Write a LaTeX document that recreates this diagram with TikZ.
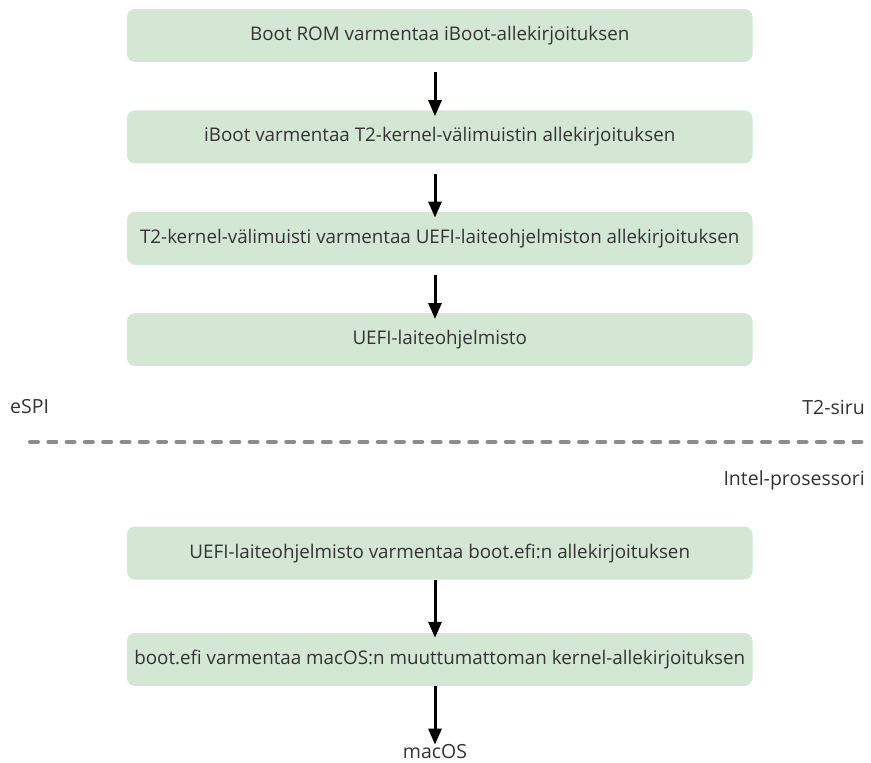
\documentclass[tikz,border=0pt]{standalone}
\usepackage{fontspec}
\setmainfont{Open Sans}
\usepackage{tikz}
\usetikzlibrary{positioning,arrows.meta}

\definecolor{boxgreen}{HTML}{D3E7D4}
\definecolor{txtgray}{HTML}{333333}
\definecolor{dashgray}{HTML}{8C8C8C}

\begin{document}
\begin{tikzpicture}[->,>={Triangle[width=13pt,length=16pt]},x=1pt,y=-1pt,
  stage/.style={fill=boxgreen,rounded corners=8pt,minimum width=625.5pt,minimum height=53pt,
    inner sep=0pt,text=txtgray,font=\fontsize{18.8}{22}\selectfont},
  side/.style={text=txtgray,inner sep=0pt,font=\fontsize{19.5}{23}\selectfont},
  flow/.style={line width=3pt}]

\useasboundingbox (0,0) rectangle (871,763);

\node[stage] (bootrom) at (439.75,35.5) {Boot ROM varmentaa iBoot-allekirjoituksen};
\node[stage,below = 48pt of bootrom] (iboot) {iBoot varmentaa T2-kernel-välimuistin allekirjoituksen};
\node[stage,below = 48pt of iboot] (kcache) {T2-kernel-välimuisti varmentaa UEFI-laiteohjelmiston allekirjoituksen};
\node[stage,below = 48pt of kcache] (uefi) {UEFI-laiteohjelmisto};
\node[stage,below = 160pt of uefi] (uefichk) {UEFI-laiteohjelmisto varmentaa boot.efi:n allekirjoituksen};
\node[stage,below = 53pt of uefichk] (bootefi) {boot.efi varmentaa macOS:n muuttumattoman kernel-allekirjoituksen};
\node[side] (macos) at (435,752) {macOS};

\node[side,anchor=west] (espi) at (10,407) {eSPI};
\node[side,anchor=east] (t2) at (865,407) {T2-siru};
\node[side,anchor=east] (intel) at (865,480) {Intel-prosessori};

\coordinate (dl) at (30,442);
\coordinate (dr) at (863,442);
\draw[-,dashgray,line width=4pt,line cap=round,dash pattern=on 8pt off 10.3pt] (dl) -- (dr);

\path ([xshift=-4.75pt]bootrom.south) edge [flow,shorten <=10pt,shorten >=-6pt] ([xshift=-4.75pt]iboot.north);
\path ([xshift=-4.75pt]iboot.south) edge [flow,shorten <=10pt,shorten >=-6pt] ([xshift=-4.75pt]kcache.north);
\path ([xshift=-4.75pt]kcache.south) edge [flow,shorten <=10pt,shorten >=-6pt] ([xshift=-4.75pt]uefi.north);
\path ([xshift=-4.75pt]uefichk.south) edge [flow,shorten >=-5pt] ([xshift=-4.75pt]bootefi.north);
\path ([xshift=-4.75pt]bootefi.south) edge [flow] (macos.north);

\end{tikzpicture}
\end{document}
